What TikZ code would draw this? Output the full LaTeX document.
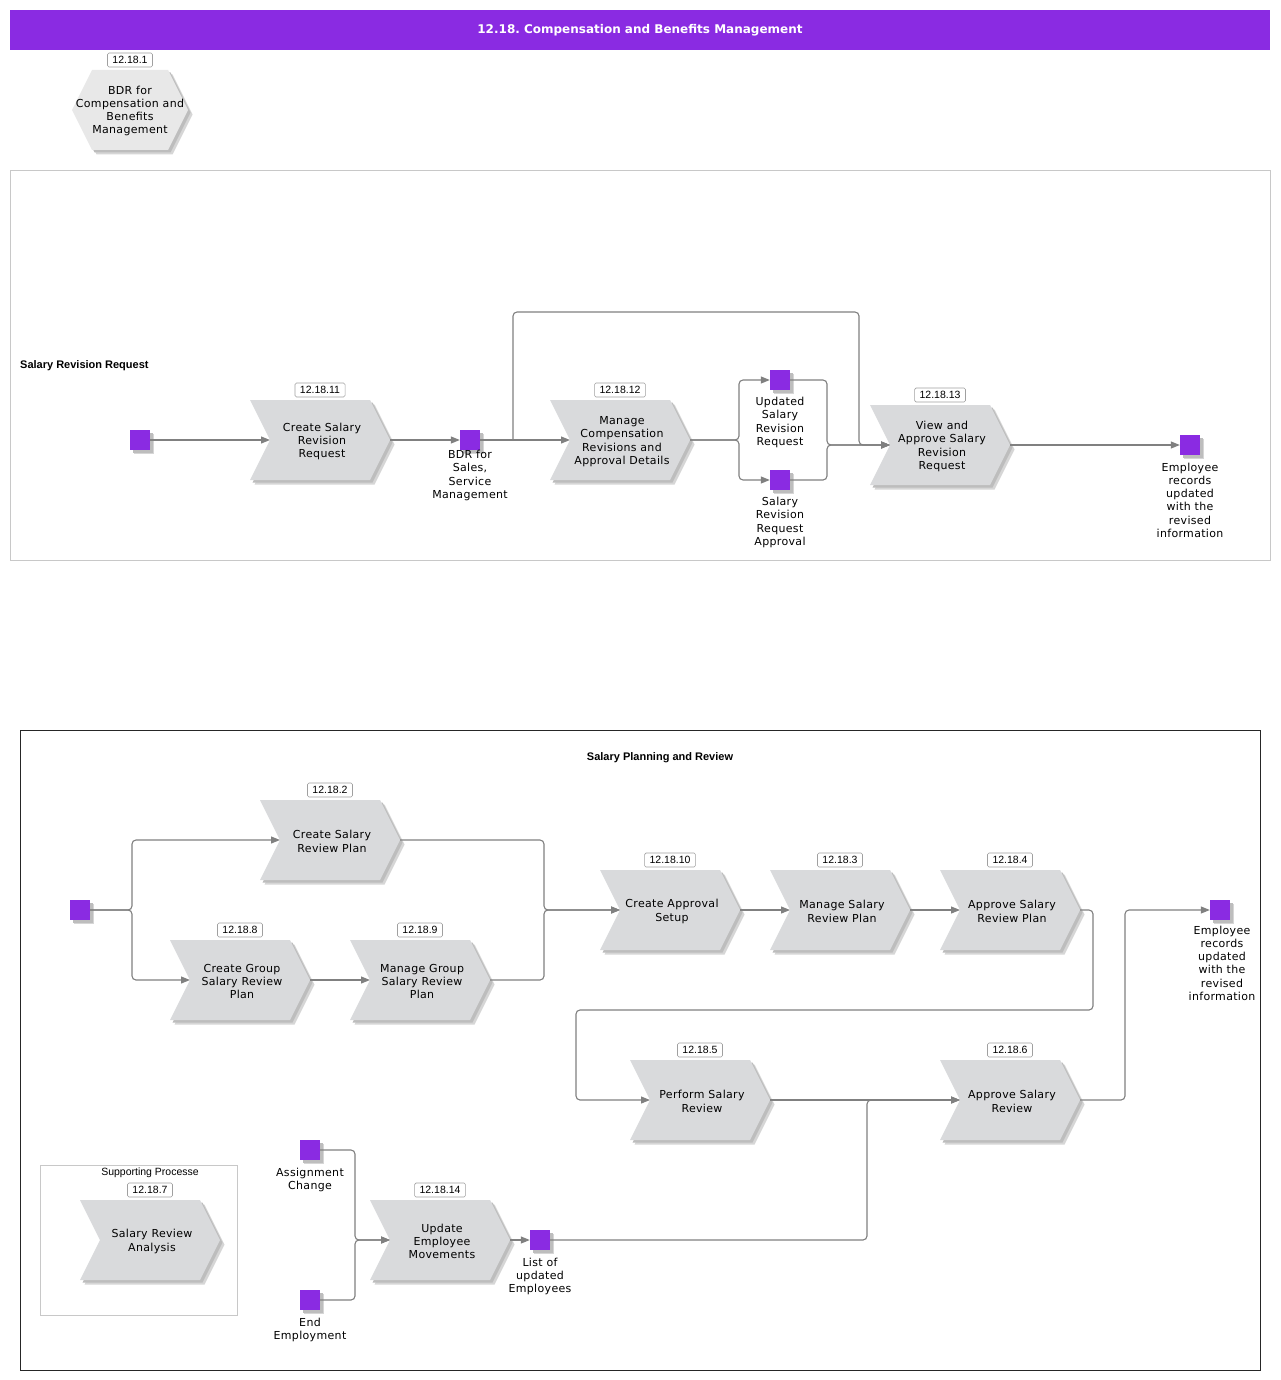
\documentclass[tikz,border=0pt]{standalone}
\usepackage{fontspec}
\setmainfont{DejaVu Sans}
\newfontfamily\arialf{Liberation Sans}
\newfontfamily\spacedf[LetterSpace=3]{DejaVu Sans}
\usetikzlibrary{arrows.meta,shadows}
\definecolor{purp}{HTML}{8A2BE2}
\definecolor{chevfill}{HTML}{D9DADC}
\definecolor{hexfill}{HTML}{E8E8E8}
\definecolor{shadowa}{HTML}{D6D6D6}
\definecolor{shadowb}{HTML}{BDBDBD}
\definecolor{connc}{HTML}{808080}
\definecolor{lanegray}{HTML}{C8C8C8}
\definecolor{numborder}{HTML}{A0A0A0}
\frenchspacing

\tikzset{
  chevtext/.style={align=center,inner sep=0pt,font=\spacedf\fontsize{11}{13.3}\selectfont},
  numbox/.style={draw=numborder,fill=white,rounded corners=1.5pt,line width=0.6pt,
    font=\arialf\fontsize{10.5}{12}\selectfont,inner xsep=5pt,inner ysep=0pt,minimum height=14pt},
  evt/.style={fill=purp,minimum size=20pt,inner sep=0pt,
    drop shadow={shadow xshift=4pt,shadow yshift=-4pt,fill=shadowa,opacity=1},
    drop shadow={shadow xshift=2.5pt,shadow yshift=-2.5pt,fill=shadowb,opacity=1}},
  evlabel/.style={align=center,anchor=north,inner sep=0pt,font=\spacedf\fontsize{11}{13.3}\selectfont},
  conn/.style={draw=connc,line width=1.1pt,rounded corners=4pt},
  arr/.style={conn,-{Triangle[length=9pt,width=7pt]}},
  lanetitle/.style={font=\arialf\bfseries\fontsize{11}{13}\selectfont,inner sep=0pt},
}

\newcommand\chevpath[3]{({#1-70+#3},{#2-40+#3}) -- ++(120,0) -- ++(20,40) -- ++(-20,40) -- ++(-120,0) -- ++(20,-40) -- cycle}
\newcommand\mychev[5]{%
  \fill[shadowa] \chevpath{#2}{#3}{4.5};
  \fill[shadowb] \chevpath{#2}{#3}{2.5};
  \fill[chevfill] \chevpath{#2}{#3}{0};
  \node[chevtext] (#1) at ({#2+2},{#3+1.5}) {#5};
  \node[numbox] (#1n) at (#2,{#3-50}) {#4};
  \coordinate (#1in) at ({#2-50},#3);
  \coordinate (#1out) at ({#2+70},#3);
}

\begin{document}
\begin{tikzpicture}[x=1pt,y=-1pt]
\useasboundingbox (0,0) rectangle (1280,1380);
\fill[white] (0,0) rectangle (1280,1380);

% header
\fill[purp] (10,10) rectangle (1270,50);
\node[text=white,font=\bfseries\fontsize{12}{14}\selectfont,inner sep=0pt] (title) at (640,30.5) {12.18. Compensation and Benefits Management};

% hexagon
\fill[shadowa] (76.5,114.5) -- (96.5,74.5) -- (172.5,74.5) -- (192.5,114.5) -- (172.5,154.5) -- (96.5,154.5) -- cycle;
\fill[shadowb] (74.5,112.5) -- (94.5,72.5) -- (170.5,72.5) -- (190.5,112.5) -- (170.5,152.5) -- (94.5,152.5) -- cycle;
\fill[hexfill] (72,110) -- (92,70) -- (168,70) -- (188,110) -- (168,150) -- (92,150) -- cycle;
\node[chevtext] (hex) at (130,111) {BDR for\\Compensation and\\Benefits\\Management};
\node[numbox] (hexn) at (130,60) {12.18.1};

% ===== top lane =====
\draw[lanegray,line width=0.8pt] (10,170) rectangle (1270,560);
\node[lanetitle,anchor=west] (lane1) at (20,365.5) {Salary Revision Request};

\node[evt] (e1) at (140,440) {};
\mychev{c11}{320}{440}{12.18.11}{Create Salary\\Revision\\Request}
\node[evt] (e2) at (470,440) {};
\node[evlabel] (e2l) at (470,450) {BDR for\\Sales,\\Service\\Management};
\mychev{c12}{620}{440}{12.18.12}{Manage\\Compensation\\Revisions and\\Approval Details}
\node[evt] (e3) at (780,380) {};
\node[evlabel] (e3l) at (780,397) {Updated\\Salary\\Revision\\Request};
\node[evt] (e4) at (780,480) {};
\node[evlabel] (e4l) at (780,497) {Salary\\Revision\\Request\\Approval};
\mychev{c13}{940}{445}{12.18.13}{View and\\Approve Salary\\Revision\\Request}
\node[evt] (e5) at (1190,445) {};
\node[evlabel] (e5l) at (1190,462.5) {Employee\\records\\updated\\with the\\revised\\information};

\coordinate (j1) at (513,440);
\draw[arr] (e1.east) -- (c11in);
\draw[arr] (c11out) -- (e2.west);
\draw[arr] (e2.east) -- (c12in);
\draw[arr] (j1) -- (513,312) -| (859,445) -- (c13in);
\draw[arr] (c12out) -- (739,440) |- (e3.west);
\draw[arr] (c12out) -- (739,440) |- (e4.west);
\draw[arr] (e3.east) -| (827,445) -- (c13in);
\draw[arr] (e4.east) -| (827,445) -- (c13in);
\draw[arr] (c13out) -- (e5.west);

% ===== bottom lane =====
\draw[black!85,line width=1pt] (20,730) rectangle (1260,1370);
\node[lanetitle] (lane2) at (660,758) {Salary Planning and Review};

\node[evt] (s1) at (80,910) {};
\mychev{c2}{330}{840}{12.18.2}{Create Salary\\Review Plan}
\mychev{c8}{240}{980}{12.18.8}{Create Group\\Salary Review\\Plan}
\mychev{c9}{420}{980}{12.18.9}{Manage Group\\Salary Review\\Plan}
\mychev{c10}{670}{910}{12.18.10}{Create Approval\\Setup}
\mychev{c3}{840}{910}{12.18.3}{Manage Salary\\Review Plan}
\mychev{c4}{1010}{910}{12.18.4}{Approve Salary\\Review Plan}
\mychev{c5}{700}{1100}{12.18.5}{Perform Salary\\Review}
\mychev{c6}{1010}{1100}{12.18.6}{Approve Salary\\Review}
\node[evt] (e6) at (1220,910) {};
\node[evlabel] (e6l) at (1222,925.5) {Employee\\records\\updated\\with the\\revised\\information};

% supporting box
\draw[lanegray,line width=0.8pt] (40,1165) rectangle (237,1315);
\node[font=\arialf\fontsize{10.5}{12}\selectfont,inner sep=0pt] (supt) at (150,1173) {Supporting Processe};
\mychev{c7}{150}{1240}{12.18.7}{Salary Review\\Analysis}

\node[evt] (eA) at (310,1150) {};
\node[evlabel] (eAl) at (310,1167.5) {Assignment\\Change};
\node[evt] (eE) at (310,1300) {};
\node[evlabel] (eEl) at (310,1317.5) {End\\Employment};
\mychev{c14}{440}{1240}{12.18.14}{Update\\Employee\\Movements}
\node[evt] (el) at (540,1240) {};
\node[evlabel] (ell) at (540,1257.5) {List of\\updated\\Employees};

\draw[arr] (s1.east) -- (132,910) |- (c2in);
\draw[arr] (s1.east) -- (132,910) |- (c8in);
\draw[arr] (c8out) -- (c9in);
\draw[arr] (c2out) -| (544,910) -- (c10in);
\draw[arr] (c9out) -| (544,910) -- (c10in);
\draw[arr] (c10out) -- (c3in);
\draw[arr] (c3out) -- (c4in);
\draw[arr] (c4out) -| (1093,1010) -| (576,1100) -- (c5in);
\draw[arr] (c5out) -- (c6in);
\draw[arr] (el.east) -| (867,1100) -- (c6in);
\draw[arr] (c6out) -| (1125,910) -- (e6.west);
\draw[arr] (eA.east) -| (355,1240) -- (c14in);
\draw[arr] (eE.east) -| (355,1240) -- (c14in);
\draw[arr] (c14out) -- (el.west);
\end{tikzpicture}
\end{document}
